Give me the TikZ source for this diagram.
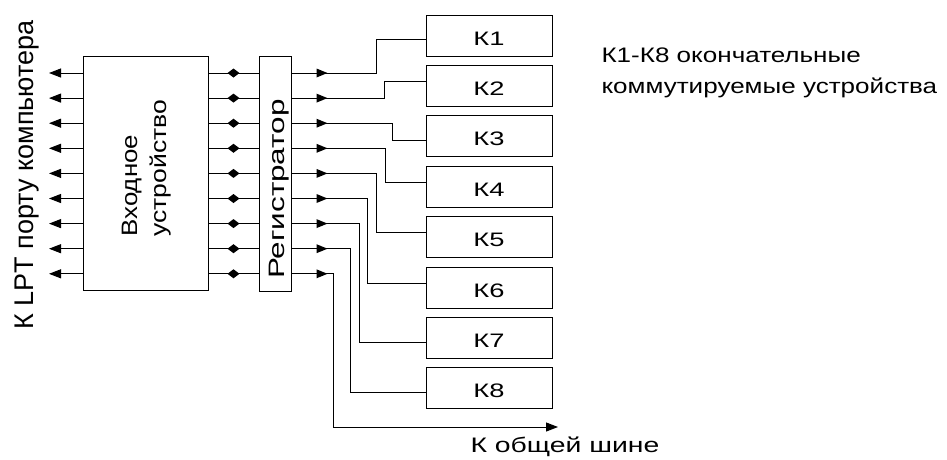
\documentclass[tikz,border=0pt]{standalone}
\usepackage{fontspec}
\setmainfont{Liberation Sans}
\usepackage{graphicx}
\usetikzlibrary{arrows.meta,decorations.markings}
\begin{document}
\begin{tikzpicture}[x=1pt,y=-1pt,line width=1pt,
  blk/.style={draw,line width=1pt,inner sep=0pt},
  kbox/.style={draw,line width=1pt,minimum width=126pt,minimum height=41pt,inner sep=0pt,
    font=\fontsize{19.5}{22}\selectfont,text height=19pt,text depth=0pt},
  lbl/.style={inner sep=0pt},
  diam/.style={postaction={decorate},decoration={markings,
    mark=at position 0.5 with {\fill (-6pt,0pt) -- (0pt,4.5pt) -- (6pt,0pt) -- (0pt,-4.5pt) -- cycle;}}},
  midarr/.style={postaction={decorate},decoration={markings,
    mark=at position 36pt with {\fill (-11pt,-4.5pt) -- (0pt,0pt) -- (-11pt,4.5pt) -- cycle;}}},
  tip/.style={-{Triangle[length=12pt,width=9pt]}}]
\useasboundingbox (0,0) rectangle (947,459);

% blocks
\node[blk,minimum width=125pt,minimum height=234pt] (inp) at (145.5,173) {};
\node[blk,minimum width=32pt,minimum height=235pt] (reg) at (275,173.5) {};

% row coordinates
\foreach \i in {1,...,9}{
  \pgfmathsetmacro\yy{73+25.1*(\i-1)}
  \coordinate (L\i) at (49,\yy);
}

% left arrows and links between blocks
\foreach \i in {1,...,9}{
  \draw[tip] (inp.west |- L\i) -- (L\i);
  \draw[diam] (inp.east |- L\i) -- (reg.west |- L\i);
}

% K boxes
\foreach \k in {1,...,8}{
  \pgfmathsetmacro\yc{35.5+50.4*(\k-1)}
  \node[kbox] (K\k) at (489,\yc) {\scalebox{1.4}[1]{К\k}};
}

% bends
\coordinate (V1) at (376,39);
\coordinate (V2) at (384,81);
\coordinate (V3) at (392,140);
\coordinate (V4) at (385,182);
\coordinate (V5) at (376,232);
\coordinate (V6) at (367,283);
\coordinate (V7) at (359,342);
\coordinate (V8) at (350,392);
\coordinate (V9) at (333,427);
\coordinate (E9) at (558,427);

\foreach \k in {1,...,8}{
  \draw[midarr] (reg.east |- L\k) -| (V\k) -- (K\k.west |- V\k);
}
\draw[midarr,tip] (reg.east |- L9) -| (V9) -- (E9);

% texts
\node[lbl,rotate=90,anchor=base,font=\fontsize{27}{30}\selectfont] (lpt) at (33,175) {К LPT порту компьютера};
\node[lbl,rotate=90,anchor=base west,font=\fontsize{22.3}{26}\selectfont] (in1) at (137,237) {\scalebox{1.16}[1]{Входное}};
\node[lbl,rotate=90,anchor=base west,font=\fontsize{22.3}{26}\selectfont] (in2) at (166,237) {\scalebox{1.19}[1]{устройство}};
\node[lbl,rotate=90,anchor=base,font=\fontsize{22.3}{26}\selectfont] (regt) at (284,189) {\scalebox{1.41}[1]{Регистратор}};
\node[lbl,anchor=base west,font=\fontsize{21}{25}\selectfont] (cap1) at (601,62) {\scalebox{1.24}[1]{К1-К8 окончательные}};
\node[lbl,anchor=base west,font=\fontsize{21}{25}\selectfont] (cap2) at (601,93) {\scalebox{1.24}[1]{коммутируемые устройства}};
\node[lbl,anchor=base west,font=\fontsize{21}{25}\selectfont] (bus) at (470,452) {\scalebox{1.35}[1]{К общей шине}};
\end{tikzpicture}
\end{document}
